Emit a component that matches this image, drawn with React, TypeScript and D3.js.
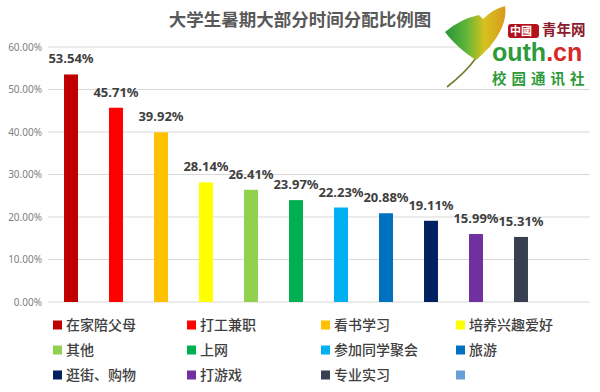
import React from "react";
import * as d3 from "d3";

const categories = [
  "在家陪父母", "打工兼职", "看书学习", "培养兴趣爱好", "其他", "上网",
  "参加同学聚会", "旅游", "逛街、购物", "打游戏", "专业实习", "",
];
const values: (number | null)[] = [
  53.54, 45.71, 39.92, 28.14, 26.41, 23.97, 22.23, 20.88, 19.11, 15.99, 15.31, null,
];
const colors = [
  "#C00000", "#FF0000", "#FFC000", "#FFFF00", "#92D050", "#00B050",
  "#00B0F0", "#0070C0", "#002060", "#7030A0", "#383F50", "#6A9FD6",
];
const yTicks = [0, 10, 20, 30, 40, 50, 60];
const title = "大学生暑期大部分时间分配比例图";

const W = 600, H = 392;
const CJK = "'Noto Sans CJK SC', 'Noto Sans', sans-serif";

export default function App() {
  const x = d3.scaleBand<string>()
    .domain(categories.map((c, i) => `${i}`))
    .range([48.5, 588.5])
    .paddingInner(0.69)
    .paddingOuter(0.345);
  const y = d3.scaleLinear().domain([0, 60]).range([302, 47]);

  const legendCols = [53, 187, 321, 456];
  const legendRows = [325, 350, 375];

  return (
    <svg width={W} height={H} style={{ position: "absolute", left: 0, top: 0, background: "#fff" }}>
      <defs>
        <linearGradient id="leaf" x1="0" y1="0" x2="1" y2="0">
          <stop offset="0" stopColor="#27953a" />
          <stop offset="0.35" stopColor="#5fb53a" />
          <stop offset="0.65" stopColor="#d6c21e" />
          <stop offset="1" stopColor="#d99a1c" />
        </linearGradient>
      </defs>
      <rect x={0} y={0} width={W} height={H} fill="#fff" />
      <text x={300} y={26} textAnchor="middle" fontFamily={CJK} fontWeight={700}
        fontSize={17.5} fill="#595959">{title}</text>

      {yTicks.map((t) => (
        <g key={t}>
          <line x1={48} x2={590} y1={y(t)} y2={y(t)} stroke="#d9d9d9" strokeWidth={1} />
          <text x={42} y={y(t)} dy="0.35em" textAnchor="end" fontFamily="'Noto Sans', sans-serif"
            fontSize={10} fill="#7f7f7f">{t.toFixed(2)}%</text>
        </g>
      ))}

      {values.map((v, i) => {
        if (v == null) return null;
        const bx = x(`${i}`)!;
        const bw = x.bandwidth();
        return (
          <g key={i}>
            <rect x={bx} y={y(v)} width={bw} height={y(0) - y(v)} fill={colors[i]} />
            <text x={bx + bw / 2} y={y(v) - 11} textAnchor="middle"
              fontFamily="'Noto Sans', sans-serif" fontWeight={700} fontSize={13}
              fill="#404040">{v.toFixed(2)}%</text>
          </g>
        );
      })}

      {categories.map((c, i) => {
        const lx = legendCols[i % 4];
        const ly = legendRows[Math.floor(i / 4)];
        return (
          <g key={`l${i}`}>
            <rect x={lx} y={ly - 4.5} width={9} height={9} fill={colors[i]} />
            <text x={lx + 13} y={ly} dy="0.36em" fontFamily={CJK} fontWeight={500}
              fontSize={14} fill="#404040">{c}</text>
          </g>
        );
      })}

      {/* logo */}
      <g>
        <rect x={491} y={22} width={100} height={64} fill="#fff" />
        <path d="M476 58 Q466 72 447 87" stroke="#6f7d2c" strokeWidth={1.6} fill="none" />
        <path
          d="M445 32 Q460 19 479 15 L483 19 Q493 9 505 6 C508 25 494 45 476 60 C465 53 453 43 445 32 Z"
          fill="url(#leaf)" />
        <rect x={508} y={24} width={31} height={14} rx={3} fill="#b3121c" />
        <text x={510} y={35} fontFamily={CJK} fontWeight={700} fontSize={11}
          fill="#fff">中國</text>
        <text x={542} y={35} fontFamily={CJK} fontWeight={700} fontSize={14.5} fill="#8b1a2b">青年网</text>
        <text x={492} y={61} fontFamily="'Liberation Sans', Arial, sans-serif" fontWeight={700} fontSize={25}>
          <tspan fill="#2d9a3b">outh</tspan><tspan fill="#d42a2a">.cn</tspan>
        </text>
        <text x={492} y={84} fontFamily={CJK} fontWeight={700} fontSize={14.5} letterSpacing={5}
          fill="#2d9a3b">校园通讯社</text>
      </g>
    </svg>
  );
}
